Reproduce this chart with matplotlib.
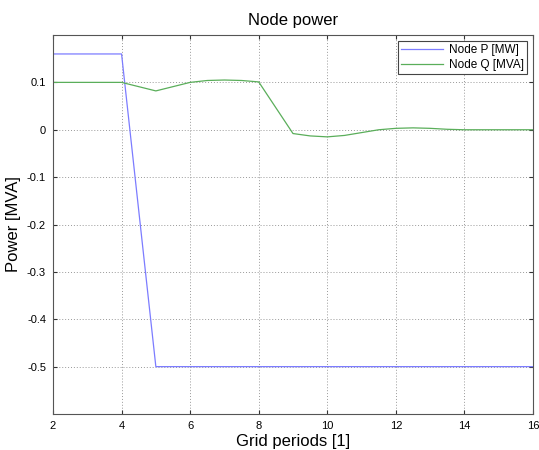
import numpy as np
import matplotlib
matplotlib.use("Agg")
import matplotlib.pyplot as plt

plt.rcParams['font.family'] = ['Liberation Sans', 'DejaVu Sans']

# node active power (MW)
p_x = [2, 4, 5, 16]
p_val = [0.16, 0.16, -0.5, -0.5]

# node reactive power (MVA)
q_x = [2, 4, 5, 6, 6.5, 7, 7.5, 8, 9, 9.5, 10, 10.5, 11, 11.5, 12,
       12.5, 13, 13.5, 14, 15, 16]
q_val = [0.1, 0.1, 0.082, 0.1, 0.104, 0.105, 0.104, 0.101, -0.008,
         -0.013, -0.015, -0.012, -0.006, 0.0, 0.003, 0.004, 0.003, 0.001,
         0.0, 0.0, 0.0]

x_ticks = [2, 4, 6, 8, 10, 12, 14, 16]
y_ticks = [-0.5, -0.4, -0.3, -0.2, -0.1, 0, 0.1]
y_ticklabels = ['-0.5', '-0.4', '-0.3', '-0.2', '-0.1', '0', '0.1']

fig = plt.figure(figsize=(5.39, 4.5), dpi=100)
ax = fig.add_axes([0.0983, 0.08, 0.8906, 0.8422])

ax.plot(p_x, p_val, color='#7c7cff', lw=0.9, label='Node P [MW]')
ax.plot(q_x, q_val, color='#5aae5a', lw=0.9, label='Node Q [MVA]')

ax.set_xlim(2, 16)
ax.set_ylim(-0.6, 0.2)
ax.set_xticks(x_ticks)
ax.set_yticks(y_ticks)
ax.set_yticklabels(y_ticklabels)
ax.tick_params(labelsize=8, direction='in', length=3, color='#333333', pad=5)
ax.tick_params(top=True, right=True)

ax.grid(True, linestyle=(0, (1, 2)), color='#999999', lw=0.7)
for s in ax.spines.values():
    s.set_color('#555555')
    s.set_linewidth(0.8)

ax.set_title('Node power', fontsize=12, pad=7)
ax.set_xlabel('Grid periods [1]', fontsize=12, labelpad=2)
ax.set_ylabel('Power [MVA]', fontsize=12, labelpad=4)

leg = ax.legend(loc='upper right', fontsize=8.5, fancybox=False, framealpha=1,
                edgecolor='#444444', handlelength=3.5, borderpad=0.3,
                labelspacing=0.2, handletextpad=0.5, borderaxespad=0.5)
leg.get_frame().set_linewidth(0.8)

fig.savefig('out.png', dpi=100)
